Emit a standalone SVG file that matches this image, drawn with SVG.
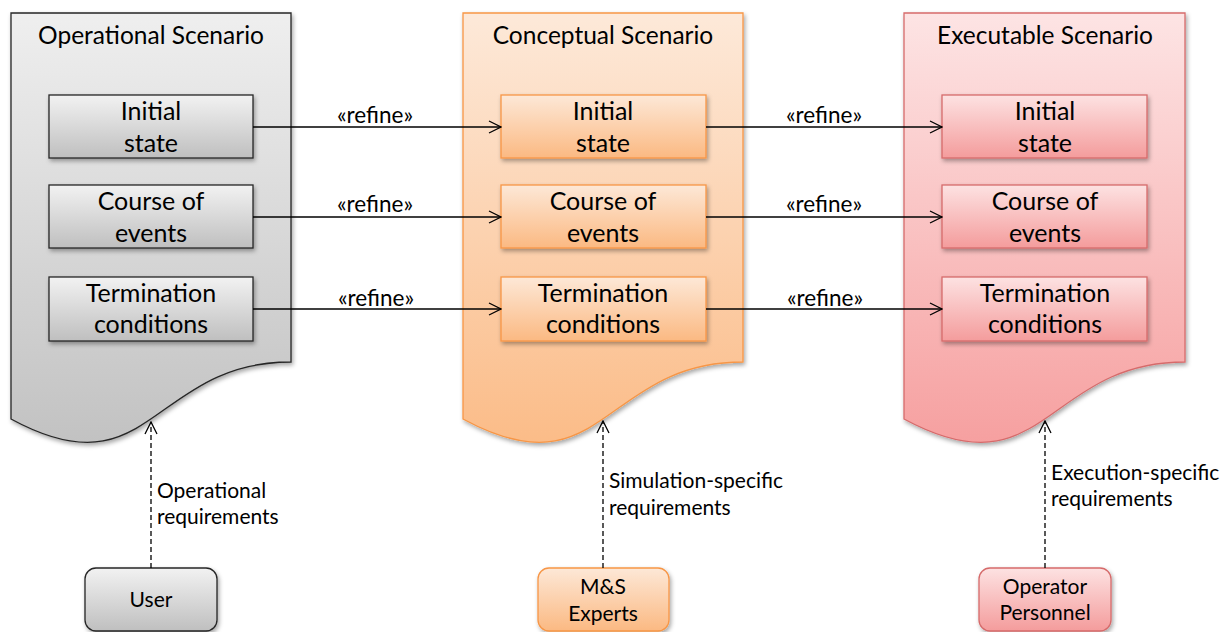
<svg xmlns="http://www.w3.org/2000/svg" width="1222" height="632" viewBox="0 0 1222 632">
<defs>
<linearGradient id="gDocGray" x1="0" y1="0" x2="0" y2="1"><stop offset="0" stop-color="#efefef"/><stop offset="1" stop-color="#c2c2c2"/></linearGradient>
<linearGradient id="gBoxGray" x1="0" y1="0" x2="0" y2="1"><stop offset="0" stop-color="#f2f2f2"/><stop offset="1" stop-color="#bfbfbf"/></linearGradient>
<linearGradient id="gDocOr" x1="0" y1="0" x2="0" y2="1"><stop offset="0" stop-color="#fde9d9"/><stop offset="1" stop-color="#fbbc88"/></linearGradient>
<linearGradient id="gBoxOr" x1="0" y1="0" x2="0" y2="1"><stop offset="0" stop-color="#fde8d7"/><stop offset="1" stop-color="#fbb982"/></linearGradient>
<linearGradient id="gDocRed" x1="0" y1="0" x2="0" y2="1"><stop offset="0" stop-color="#fde4e4"/><stop offset="1" stop-color="#f6a0a0"/></linearGradient>
<linearGradient id="gBoxRed" x1="0" y1="0" x2="0" y2="1"><stop offset="0" stop-color="#fde2e2"/><stop offset="1" stop-color="#f49c9c"/></linearGradient>
<filter id="sh" x="-10%" y="-10%" width="130%" height="130%"><feDropShadow dx="1.5" dy="2.5" stdDeviation="2" flood-color="#000" flood-opacity="0.35"/></filter>
<marker id="open" viewBox="0 0 14 14" refX="13" refY="7" markerWidth="14" markerHeight="14" markerUnits="userSpaceOnUse" orient="auto"><path d="M1,1 L13,7 L1,13" fill="none" stroke="#000" stroke-width="1.3"/></marker>
</defs>
<style>
text{font-family:Lato,"Liberation Sans",sans-serif;fill:#000;text-anchor:middle}
.title{font-size:24.5px}
.box{font-size:25px}
.lbl{font-size:22.5px}
.req{font-size:21px;text-anchor:start}
.act{font-size:21px}
.gray{stroke:#262626;stroke-width:1.3}
.or{stroke:#f79646;stroke-width:1.3}
.red{stroke:#d66b6b;stroke-width:1.3}
.conn{fill:none;stroke:#000;stroke-width:1.3}
.dash{fill:none;stroke:#000;stroke-width:1.3;stroke-dasharray:5,3}
</style>

<g id="operational-scenario">
<path class="gray" filter="url(#sh)" fill="url(#gDocGray)" d="M11,13 H291 V362 C151,362 151,495 11,419 Z"/>
<text class="title" x="151" y="44">Operational Scenario</text>
</g>
<g id="op-initial"><rect class="gray" filter="url(#sh)" fill="url(#gBoxGray)" x="49" y="95" width="204" height="63"/><text class="box" x="151" y="120">Initial</text><text class="box" x="151" y="152">state</text></g>
<g id="op-course"><rect class="gray" filter="url(#sh)" fill="url(#gBoxGray)" x="49" y="185" width="204" height="63"/><text class="box" x="151" y="210">Course of</text><text class="box" x="151" y="242">events</text></g>
<g id="op-term"><rect class="gray" filter="url(#sh)" fill="url(#gBoxGray)" x="49" y="277" width="204" height="64"/><text class="box" x="151" y="302">Termination</text><text class="box" x="151" y="333">conditions</text></g>

<g id="conceptual-scenario">
<path class="or" filter="url(#sh)" fill="url(#gDocOr)" d="M463,13 H743 V362 C603,362 603,495 463,419 Z"/>
<text class="title" x="603" y="44">Conceptual Scenario</text>
</g>
<g id="co-initial"><rect class="or" filter="url(#sh)" fill="url(#gBoxOr)" x="501" y="95" width="205" height="63"/><text class="box" x="603" y="120">Initial</text><text class="box" x="603" y="152">state</text></g>
<g id="co-course"><rect class="or" filter="url(#sh)" fill="url(#gBoxOr)" x="501" y="185" width="205" height="63"/><text class="box" x="603" y="210">Course of</text><text class="box" x="603" y="242">events</text></g>
<g id="co-term"><rect class="or" filter="url(#sh)" fill="url(#gBoxOr)" x="501" y="277" width="205" height="64"/><text class="box" x="603" y="302">Termination</text><text class="box" x="603" y="333">conditions</text></g>

<g id="executable-scenario">
<path class="red" filter="url(#sh)" fill="url(#gDocRed)" d="M904,13 H1185 V362 C1045,362 1045,495 904,419 Z"/>
<text class="title" x="1045" y="44">Executable Scenario</text>
</g>
<g id="ex-initial"><rect class="red" filter="url(#sh)" fill="url(#gBoxRed)" x="942" y="95" width="205" height="63"/><text class="box" x="1045" y="120">Initial</text><text class="box" x="1045" y="152">state</text></g>
<g id="ex-course"><rect class="red" filter="url(#sh)" fill="url(#gBoxRed)" x="942" y="185" width="205" height="63"/><text class="box" x="1045" y="210">Course of</text><text class="box" x="1045" y="242">events</text></g>
<g id="ex-term"><rect class="red" filter="url(#sh)" fill="url(#gBoxRed)" x="942" y="277" width="205" height="64"/><text class="box" x="1045" y="302">Termination</text><text class="box" x="1045" y="333">conditions</text></g>

<g id="user"><rect class="gray" filter="url(#sh)" fill="url(#gBoxGray)" x="85" y="568" width="132" height="63" rx="11"/><text class="act" x="151" y="607">User</text></g>
<g id="ms-experts"><rect class="or" filter="url(#sh)" fill="url(#gBoxOr)" x="538" y="568" width="131" height="63" rx="11"/><text class="act" x="603" y="594">M&amp;S</text><text class="act" x="603" y="621">Experts</text></g>
<g id="operator-personnel"><rect class="red" filter="url(#sh)" fill="url(#gBoxRed)" x="979" y="568" width="132" height="63" rx="11"/><text class="act" x="1045" y="594">Operator</text><text class="act" x="1045" y="620">Personnel</text></g>

<g id="connectors">
<path class="conn" marker-end="url(#open)" d="M253,127 H501"/>
<path class="conn" marker-end="url(#open)" d="M253,217 H501"/>
<path class="conn" marker-end="url(#open)" d="M253,309 H501"/>
<path class="conn" marker-end="url(#open)" d="M706,127 H942"/>
<path class="conn" marker-end="url(#open)" d="M706,217 H942"/>
<path class="conn" marker-end="url(#open)" d="M706,309 H942"/>
<text class="lbl" x="375" y="123">«refine»</text>
<text class="lbl" x="375" y="212">«refine»</text>
<text class="lbl" x="376" y="306">«refine»</text>
<text class="lbl" x="824" y="123">«refine»</text>
<text class="lbl" x="824" y="212">«refine»</text>
<text class="lbl" x="825" y="306">«refine»</text>
<path class="dash" marker-end="url(#open)" d="M151,568 V422"/>
<path class="dash" marker-end="url(#open)" d="M603,568 V421"/>
<path class="dash" marker-end="url(#open)" d="M1045,568 V421"/>
<text class="req" x="157" y="498">Operational</text>
<text class="req" x="157" y="524">requirements</text>
<text class="req" x="609" y="488">Simulation-specific</text>
<text class="req" x="609" y="515">requirements</text>
<text class="req" x="1051" y="480">Execution-specific</text>
<text class="req" x="1051" y="506">requirements</text>
</g>
</svg>
